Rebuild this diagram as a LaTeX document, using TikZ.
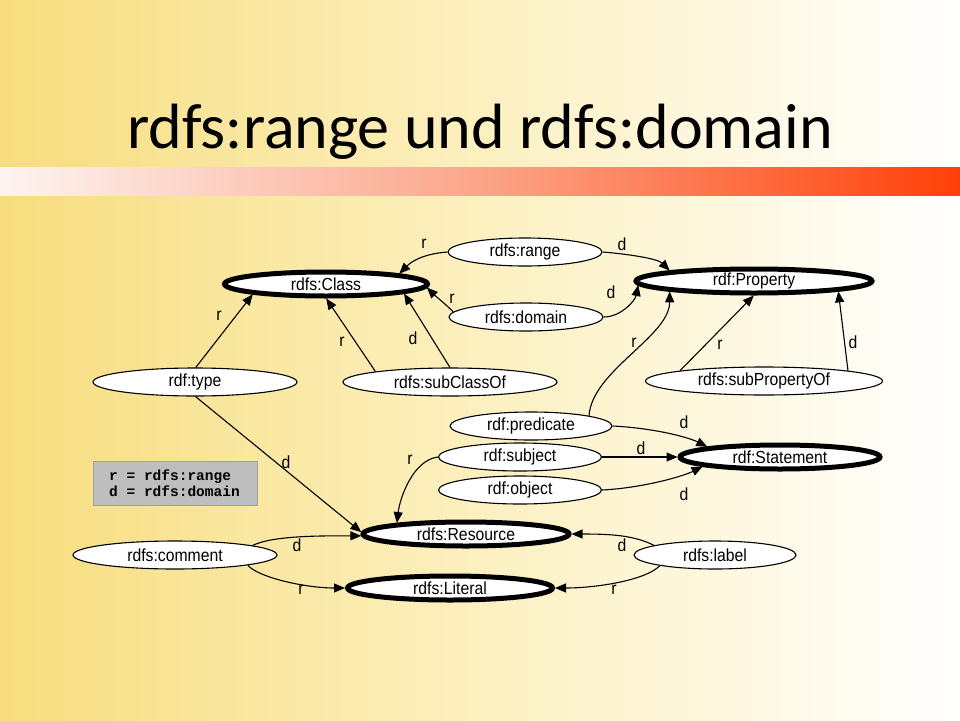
\documentclass[tikz,border=0pt]{standalone}
\usepackage{fontspec}
\setmainfont{Liberation Sans}
\newfontfamily\titlefont{Carlito}
\newfontfamily\legendfont{Liberation Mono}
\newfontfamily\narrowfont[FakeStretch=0.9]{Liberation Sans}
\usetikzlibrary{shapes.geometric,arrows.meta}
\definecolor{bgL}{RGB}{247,221,126}
\definecolor{bgM}{RGB}{252,240,192}
\definecolor{barL}{RGB}{253,244,242}
\definecolor{barM}{RGB}{251,165,138}
\definecolor{barR}{RGB}{255,64,8}
\definecolor{legfill}{RGB}{190,190,190}
\definecolor{legdraw}{RGB}{160,160,160}
\begin{document}
\begin{tikzpicture}[x=1pt,y=-1pt,
  nodefont/.style={font=\narrowfont\fontsize{17.5}{19}\selectfont},
  thinnode/.style={ellipse, draw=black, line width=1.1pt, fill=white, minimum height=28pt, inner sep=0pt, nodefont},
  thicknode/.style={ellipse, draw=black, line width=5pt, fill=white, minimum height=24pt, inner sep=0pt, nodefont},
  edge/.style={draw=black, line width=1.1pt, -{Triangle[length=11pt,width=9pt]}},
  lab/.style={inner sep=0pt, nodefont}
]
\useasboundingbox (0,0) rectangle (960,720);
\shade[left color=bgL, right color=white, middle color=bgM] (0,0) rectangle (960,720);
\shade[left color=barL, right color=barR, middle color=barM] (0,167) rectangle (960,195);
\node[anchor=base, inner sep=0pt, font=\titlefont\fontsize{64}{70}\selectfont] (title) at (480,148) {rdfs:range und rdfs:domain};

% legend
\node[draw=legdraw, fill=legfill, line width=1pt, minimum width=164pt, minimum height=44pt, anchor=north west, inner sep=0pt] (legend) at (93,461) {};
\node[anchor=base west, inner sep=0pt, font=\legendfont\bfseries\fontsize{14.5}{16}\selectfont] (leg1) at (109,480) {r = rdfs:range};
\node[anchor=base west, inner sep=0pt, font=\legendfont\bfseries\fontsize{14.5}{16}\selectfont] (leg2) at (109,496) {d = rdfs:domain};

% class nodes
\node[thicknode, minimum width=203pt] (Class) at (326,284) {rdfs:Class};
\node[thicknode, minimum width=236pt] (Property) at (754,281) {rdf:Property};
\node[thicknode, minimum width=200pt] (Statement) at (780,457) {rdf:Statement};
\node[thicknode, minimum width=206pt] (Resource) at (466,534) {rdfs:Resource};
\node[thicknode, minimum width=205pt] (Literal) at (450,588) {rdfs:Literal};

% property nodes
\node[thinnode, minimum width=154pt] (range) at (525,252) {rdfs:range};
\node[thinnode, minimum width=154pt] (domain) at (526,317) {rdfs:domain};
\node[thinnode, minimum width=204pt] (type) at (195,382) {rdf:type};
\node[thinnode, minimum width=214pt] (subClassOf) at (450,382) {rdfs:subClassOf};
\node[thinnode, minimum width=237pt] (subPropertyOf) at (764,381) {rdfs:subPropertyOf};
\node[thinnode, minimum width=162pt] (predicate) at (531,426) {rdf:predicate};
\node[thinnode, minimum width=163pt] (subject) at (520,457) {rdf:subject};
\node[thinnode, minimum width=163pt] (object) at (520,490) {rdf:object};
\node[thinnode, minimum width=204pt] (comment) at (175,555) {rdfs:comment};
\node[thinnode, minimum width=162pt] (label) at (715,555) {rdfs:label};

% edges
\draw[edge] (range.180) .. controls +(-25,2) and +(12,-12) .. (Class.8);
\draw[edge] (range.0) .. controls +(25,2) and +(-12,-12) .. (Property.173);
\draw[edge] (domain.176) .. controls +(-8,-8) and +(8,8) .. (Class.-2);
\draw[edge] (domain.0) .. controls +(18,0) and +(-3,15) .. (Property.182);
\draw[edge] (type.87) -- (Class.188);
\draw[edge] (subClassOf.172) -- (Class.-89);
\draw[edge] (subClassOf.90) -- (Class.-7.5);
\draw[edge] (predicate.10) .. controls +(3,-45) and +(0,45) .. (Property.187);
\draw[edge] (subPropertyOf.173) -- (Property.-91);
\draw[edge] (subPropertyOf.7) -- (Property.-7);
\draw[edge] (predicate.0) .. controls +(40,2) and +(-20,-10) .. (Statement.172);
\draw[edge] (subject.0) -- (Statement.180);
\draw[edge] (object.0) .. controls +(40,-2) and +(-20,10) .. (Statement.187);
\draw[edge] (subject.180) .. controls +(-25,3) and +(3,-25) .. (Resource.171);
\draw[edge] (type.-88) -- (Resource.179);
\draw[edge] (comment.7) .. controls +(20,-10) and +(-40,0) .. (Resource.181);
\draw[edge] (comment.-8.5) .. controls +(10,12) and +(-40,0) .. (Literal.180);
\draw[edge] (label.171) .. controls +(-20,-10) and +(40,0) .. (Resource.0);
\draw[edge] (label.191) .. controls +(-15,15) and +(40,0) .. (Literal.0);

% edge labels
\node[lab] (l1) at (424,244) {r};
\node[lab] (l2) at (622,244) {d};
\node[lab] (l3) at (452,299) {r};
\node[lab] (l4) at (611,292) {d};
\node[lab] (l5) at (219,316) {r};
\node[lab] (l6) at (342,342) {r};
\node[lab] (l7) at (413,338) {d};
\node[lab] (l8) at (634,343) {r};
\node[lab] (l9) at (720,345) {r};
\node[lab] (l10) at (853,342) {d};
\node[lab] (l11) at (684,422) {d};
\node[lab] (l12) at (641,448) {d};
\node[lab] (l13) at (684,494) {d};
\node[lab] (l14) at (410,460) {r};
\node[lab] (l15) at (286,462) {d};
\node[lab] (l16) at (297,545) {d};
\node[lab] (l17) at (301,590) {r};
\node[lab] (l18) at (622,545) {d};
\node[lab] (l19) at (614,590) {r};
\end{tikzpicture}
\end{document}
